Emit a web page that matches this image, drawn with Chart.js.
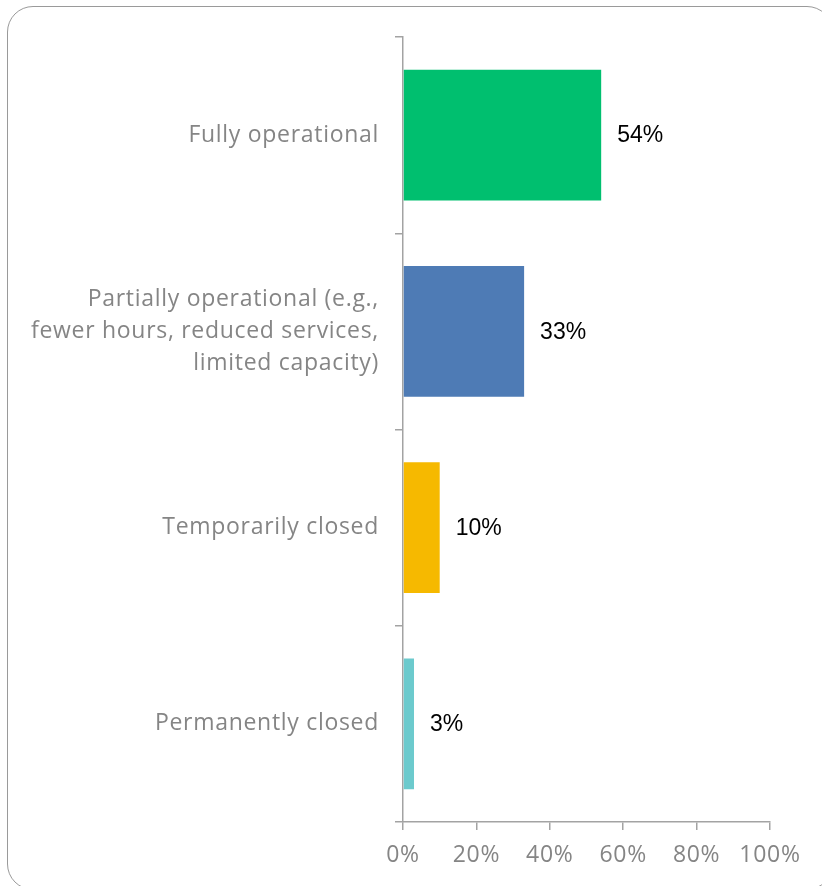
<!DOCTYPE html>
<html>
<head>
<meta charset="utf-8">
<script src="https://cdn.jsdelivr.net/npm/chart.js@4.4.1/dist/chart.umd.min.js"></script>
<style>
  html, body { margin: 0; padding: 0; background: #fff; overflow: hidden; }
  #wrap { position: relative; width: 822px; height: 886px; }
  #frame {
    position: absolute; left: 7px; top: 6px; width: 826px; height: 884px;
    border: 1.5px solid #9a9a9a; border-radius: 26px; box-sizing: border-box;
  }
  #myChart { position: absolute; left: 0; top: 0; }
</style>
</head>
<body>
<div id="wrap">
  <div id="frame"></div>
  <canvas id="myChart" width="822" height="886"></canvas>
</div>
<script>
var categories = [
    "Fully operational",
    ["Partially operational (e.g.,", "fewer hours, reduced services,", "limited capacity)"],
    "Temporarily closed",
    "Permanently closed"
];
var values = [54, 33, 10, 3];
var barColors = ['#00bf6f', '#4e7bb5', '#f6b900', '#6ccacd'];
var xTicks = [0, 20, 40, 60, 80, 100];

var fontFamily = "'Open Sans', 'Noto Sans', sans-serif";
var axisGrey = '#a3a3a3';
var textGrey = '#858585';

// axis text is a bit more spread out than Open Sans by default
var spacing = {
    id: 'spacing',
    beforeDraw: function(chart) {
        chart.ctx.letterSpacing = '0.7px';
    }
};

// value labels to the right of each bar
var valueLabels = {
    id: 'valueLabels',
    afterDatasetsDraw: function(chart) {
        var ctx = chart.ctx;
        var meta = chart.getDatasetMeta(0);
        ctx.save();
        ctx.letterSpacing = '0px';
        ctx.font = "23px 'Liberation Sans', Arial, sans-serif";
        ctx.fillStyle = '#000';
        ctx.textAlign = 'left';
        ctx.textBaseline = 'middle';
        meta.data.forEach(function(bar, i) {
            ctx.fillText(values[i] + '%', bar.x + 16, bar.y + 1);
        });
        ctx.restore();
    }
};

var ctx = document.getElementById("myChart").getContext('2d');

var myChart = new Chart(ctx, {
    type: 'bar',
    data: {
        labels: categories,
        datasets: [{
            data: values,
            backgroundColor: barColors,
            borderWidth: 0,
            barPercentage: 0.667,
            categoryPercentage: 1
        }]
    },
    options: {
        indexAxis: 'y',
        responsive: false,
        animation: false,
        layout: { padding: { top: 37, right: 52, left: 0, bottom: 0 } },
        plugins: {
            legend: { display: false },
            tooltip: { enabled: false }
        },
        scales: {
            x: {
                min: 0,
                max: 100,
                afterBuildTicks: function(scale) {
                    scale.ticks = xTicks.map(function(v) { return { value: v }; });
                },
                afterFit: function(scale) { scale.height = 64; },
                border: { color: axisGrey, width: 1.5 },
                grid: { drawOnChartArea: false, color: axisGrey, lineWidth: 1.5, tickLength: 8 },
                ticks: {
                    color: textGrey,
                    font: { size: 23, family: fontFamily },
                    padding: 12,
                    callback: function(v) { return v + '%'; }
                }
            },
            y: {
                afterFit: function(scale) { scale.width = 403; },
                border: { color: axisGrey, width: 1.5 },
                grid: { drawOnChartArea: false, color: axisGrey, lineWidth: 1.5, tickLength: 8, offset: true },
                ticks: {
                    color: textGrey,
                    font: { size: 23, family: fontFamily, lineHeight: 1.39 },
                    padding: 16
                }
            }
        }
    },
    plugins: [spacing, valueLabels]
});
</script>
</body>
</html>
